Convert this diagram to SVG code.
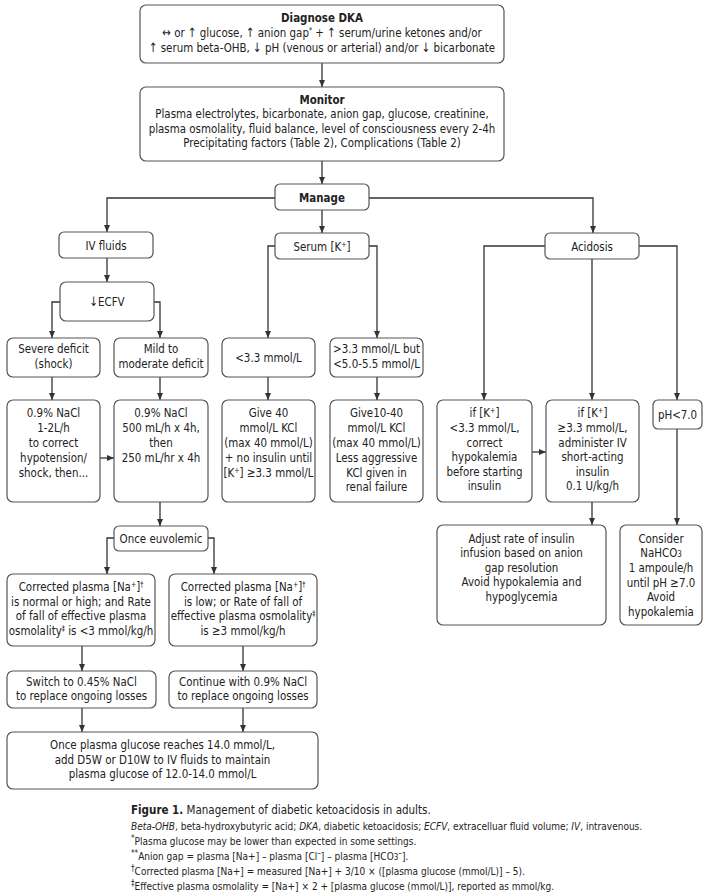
<svg xmlns="http://www.w3.org/2000/svg" width="707" height="896" viewBox="0 0 707 896">
<style>
.box{fill:#fff;stroke:#555;stroke-width:1.2}
.c{fill:none;stroke:#333;stroke-width:1.3;marker-end:url(#ah)}
text{font-family:"DejaVu Sans Condensed","Liberation Sans",sans-serif;font-size:13px;fill:#222;text-anchor:middle;transform-box:fill-box;transform-origin:center;transform:scaleX(0.88)}
.b{font-weight:bold}
text.cap{font-size:10px;text-anchor:start;transform:none}
text.cap1{font-size:11.5px}
.sup{font-size:8px}
</style>
<defs>
<marker id="ah" markerUnits="userSpaceOnUse" markerWidth="7" markerHeight="7" refX="7" refY="3.5" orient="auto">
<path d="M0,0.5 L7,3.5 L0,6.5 z" fill="#333"/>
</marker>
</defs>
<g id="connectors">
<path class="c" d="M322,63 V87"/>
<path class="c" d="M322,161 V184"/>
<path class="c" d="M275,198 H107 V232"/>
<path class="c" d="M369,198 H593 V233"/>
<path class="c" d="M322,210 V233"/>
<path class="c" d="M107,258 V282"/>
<path class="c" d="M60,302 H52 V338"/>
<path class="c" d="M154,302 H160 V338"/>
<path class="c" d="M275,246 H268 V338"/>
<path class="c" d="M369,246 H377 V338"/>
<path class="c" d="M545,246 H484 V400"/>
<path class="c" d="M592,259 V400"/>
<path class="c" d="M639,246 H677 V400"/>
<path class="c" d="M52,377 V400"/>
<path class="c" d="M160,377 V400"/>
<path class="c" d="M268,377 V400"/>
<path class="c" d="M377,377 V400"/>
<path class="c" d="M100,458 H114"/>
<path class="c" d="M160,502 V526"/>
<path class="c" d="M114,538 H107 V574"/>
<path class="c" d="M208,538 H214 V574"/>
<path class="c" d="M82,646 V671"/>
<path class="c" d="M243,646 V671"/>
<path class="c" d="M82,708 V732"/>
<path class="c" d="M243,708 V732"/>
<path class="c" d="M532,452 H546"/>
<path class="c" d="M592,502 V525"/>
<path class="c" d="M677,429 V525"/>
</g>
<g id="diagnose">
<rect class="box" x="140" y="5" width="364" height="58" rx="6"/>
<text x="322" y="22" class="b">Diagnose DKA</text>
<text x="322" y="37">↔ or ↑ glucose, ↑ anion gap<tspan class="sup" baseline-shift="super">*</tspan> + ↑ serum/urine ketones and/or</text>
<text x="322" y="52">↑ serum beta-OHB, ↓ pH (venous or arterial) and/or ↓ bicarbonate</text>
</g>
<g id="monitor">
<rect class="box" x="140" y="87" width="364" height="74" rx="6"/>
<text x="322" y="104" class="b">Monitor</text>
<text x="322" y="118">Plasma electrolytes, bicarbonate, anion gap, glucose, creatinine,</text>
<text x="322" y="133">plasma osmolality, fluid balance, level of consciousness every 2-4h</text>
<text x="322" y="147">Precipitating factors (Table 2), Complications (Table 2)</text>
</g>
<g id="manage">
<rect class="box" x="275" y="184" width="94" height="26" rx="5"/>
<text x="322" y="202" class="b">Manage</text>
</g>
<g id="ivfluids">
<rect class="box" x="59" y="232" width="94" height="26" rx="5"/>
<text x="106" y="250">IV fluids</text>
</g>
<g id="serumk">
<rect class="box" x="275" y="233" width="94" height="26" rx="5"/>
<text x="322" y="251">Serum [K<tspan class="sup" baseline-shift="super">+</tspan>]</text>
</g>
<g id="acidosis">
<rect class="box" x="545" y="233" width="94" height="26" rx="5"/>
<text x="592" y="251">Acidosis</text>
</g>
<g id="ecfv">
<rect class="box" x="60" y="282" width="94" height="39" rx="6"/>
<text x="107" y="306">↓ECFV</text>
</g>
<g id="severe">
<rect class="box" x="7" y="338" width="93" height="39" rx="6"/>
<text x="53.5" y="353">Severe deficit</text>
<text x="53.5" y="368">(shock)</text>
</g>
<g id="mild">
<rect class="box" x="114" y="338" width="94" height="39" rx="6"/>
<text x="161" y="353">Mild to</text>
<text x="161" y="368">moderate deficit</text>
</g>
<g id="klow">
<rect class="box" x="222" y="338" width="93" height="39" rx="6"/>
<text x="268.5" y="362">&lt;3.3 mmol/L</text>
</g>
<g id="kmid">
<rect class="box" x="330" y="338" width="93" height="39" rx="6"/>
<text x="376.5" y="353">&gt;3.3 mmol/L but</text>
<text x="376.5" y="368">&lt;5.0-5.5 mmol/L</text>
</g>
<g id="severe-tx">
<rect class="box" x="7" y="400" width="93" height="102" rx="6"/>
<text x="53.5" y="417">0.9% NaCl</text>
<text x="53.5" y="432">1-2L/h</text>
<text x="53.5" y="447">to correct</text>
<text x="53.5" y="462">hypotension/</text>
<text x="53.5" y="477">shock, then...</text>
</g>
<g id="mild-tx">
<rect class="box" x="114" y="400" width="94" height="102" rx="6"/>
<text x="161" y="417">0.9% NaCl</text>
<text x="161" y="432">500 mL/h x 4h,</text>
<text x="161" y="447">then</text>
<text x="161" y="462">250 mL/hr x 4h</text>
</g>
<g id="klow-tx">
<rect class="box" x="222" y="400" width="93" height="102" rx="6"/>
<text x="268.5" y="417">Give 40</text>
<text x="268.5" y="432">mmol/L KCl</text>
<text x="268.5" y="447">(max 40 mmol/L)</text>
<text x="268.5" y="462">+ no insulin until</text>
<text x="268.5" y="477">[K<tspan class="sup" baseline-shift="super">+</tspan>] ≥3.3 mmol/L</text>
</g>
<g id="kmid-tx">
<rect class="box" x="330" y="400" width="93" height="102" rx="6"/>
<text x="376.5" y="417">Give10-40</text>
<text x="376.5" y="432">mmol/L KCl</text>
<text x="376.5" y="447">(max 40 mmol/L)</text>
<text x="376.5" y="462">Less aggressive</text>
<text x="376.5" y="477">KCl given in</text>
<text x="376.5" y="491">renal failure</text>
</g>
<g id="ifklow">
<rect class="box" x="437" y="400" width="95" height="102" rx="6"/>
<text x="484.5" y="417">if [K<tspan class="sup" baseline-shift="super">+</tspan>]</text>
<text x="484.5" y="432">&lt;3.3 mmol/L,</text>
<text x="484.5" y="447">correct</text>
<text x="484.5" y="461">hypokalemia</text>
<text x="484.5" y="476">before starting</text>
<text x="484.5" y="490">insulin</text>
</g>
<g id="ifkhigh">
<rect class="box" x="546" y="400" width="93" height="102" rx="6"/>
<text x="592.5" y="417">if [K<tspan class="sup" baseline-shift="super">+</tspan>]</text>
<text x="592.5" y="432">≥3.3 mmol/L,</text>
<text x="592.5" y="447">administer IV</text>
<text x="592.5" y="461">short-acting</text>
<text x="592.5" y="476">insulin</text>
<text x="592.5" y="490">0.1 U/kg/h</text>
</g>
<g id="ph">
<rect class="box" x="653" y="400" width="49" height="29" rx="5"/>
<text x="677.5" y="419">pH&lt;7.0</text>
</g>
<g id="adjust">
<rect class="box" x="437" y="525" width="169" height="100" rx="6"/>
<text x="521.5" y="543">Adjust rate of insulin</text>
<text x="521.5" y="557">infusion based on anion</text>
<text x="521.5" y="572">gap resolution</text>
<text x="521.5" y="586">Avoid hypokalemia and</text>
<text x="521.5" y="601">hypoglycemia</text>
</g>
<g id="consider">
<rect class="box" x="620" y="525" width="82" height="100" rx="6"/>
<text x="661" y="543">Consider</text>
<text x="661" y="557">NaHCO<tspan font-size="9">3</tspan></text>
<text x="661" y="572">1 ampoule/h</text>
<text x="661" y="587">until pH ≥7.0</text>
<text x="661" y="601">Avoid</text>
<text x="661" y="616">hypokalemia</text>
</g>
<g id="euvolemic">
<rect class="box" x="114" y="526" width="94" height="25" rx="5"/>
<text x="161" y="543">Once euvolemic</text>
</g>
<g id="na-normal">
<rect class="box" x="7" y="574" width="148" height="72" rx="6"/>
<text x="81" y="591">Corrected plasma [Na<tspan class="sup" baseline-shift="super">+</tspan>]<tspan class="sup" baseline-shift="super">†</tspan></text>
<text x="81" y="606">is normal or high; and Rate</text>
<text x="81" y="620">of fall of effective plasma</text>
<text x="81" y="635">osmolality<tspan class="sup" baseline-shift="super">‡</tspan> is &lt;3 mmol/kg/h</text>
</g>
<g id="na-low">
<rect class="box" x="169" y="574" width="148" height="72" rx="6"/>
<text x="243" y="591">Corrected plasma [Na<tspan class="sup" baseline-shift="super">+</tspan>]<tspan class="sup" baseline-shift="super">†</tspan></text>
<text x="243" y="606">is low; or Rate of fall of</text>
<text x="243" y="620">effective plasma osmolality<tspan class="sup" baseline-shift="super">‡</tspan></text>
<text x="243" y="635">is ≥3 mmol/kg/h</text>
</g>
<g id="switch">
<rect class="box" x="7" y="671" width="149" height="37" rx="6"/>
<text x="81.5" y="686">Switch to 0.45% NaCl</text>
<text x="81.5" y="700">to replace ongoing losses</text>
</g>
<g id="continue">
<rect class="box" x="169" y="671" width="148" height="37" rx="6"/>
<text x="243" y="686">Continue with 0.9% NaCl</text>
<text x="243" y="700">to replace ongoing losses</text>
</g>
<g id="glucose">
<rect class="box" x="7" y="732" width="311" height="57" rx="6"/>
<text x="162.5" y="749">Once plasma glucose reaches 14.0 mmol/L,</text>
<text x="162.5" y="764">add D5W or D10W to IV fluids to maintain</text>
<text x="162.5" y="778">plasma glucose of 12.0-14.0 mmol/L</text>
</g>
<g id="caption">
<text class="cap cap1" x="131" y="814"><tspan font-weight="bold">Figure 1.</tspan> Management of diabetic ketoacidosis in adults.</text>
<text class="cap" x="131" y="830"><tspan font-style="italic">Beta-OHB</tspan>, beta-hydroxybutyric acid; <tspan font-style="italic">DKA</tspan>, diabetic ketoacidosis; <tspan font-style="italic">ECFV</tspan>, extracelluar fluid volume; <tspan font-style="italic">IV</tspan>, intravenous.</text>
<text class="cap" x="131" y="845"><tspan class="sup" baseline-shift="super">*</tspan>Plasma glucose may be lower than expected in some settings.</text>
<text class="cap" x="131" y="860"><tspan class="sup" baseline-shift="super">**</tspan>Anion gap = plasma [Na+] – plasma [Cl<tspan class="sup" baseline-shift="super">–</tspan>] – plasma [HCO<tspan font-size="8">3</tspan><tspan class="sup" baseline-shift="super">–</tspan>].</text>
<text class="cap" x="131" y="875"><tspan class="sup" baseline-shift="super">†</tspan>Corrected plasma [Na+] = measured [Na+] + 3/10 × ([plasma glucose (mmol/L)] – 5).</text>
<text class="cap" x="131" y="890"><tspan class="sup" baseline-shift="super">‡</tspan>Effective plasma osmolality = [Na+] × 2 + [plasma glucose (mmol/L)], reported as mmol/kg.</text>
</g>
</svg>
